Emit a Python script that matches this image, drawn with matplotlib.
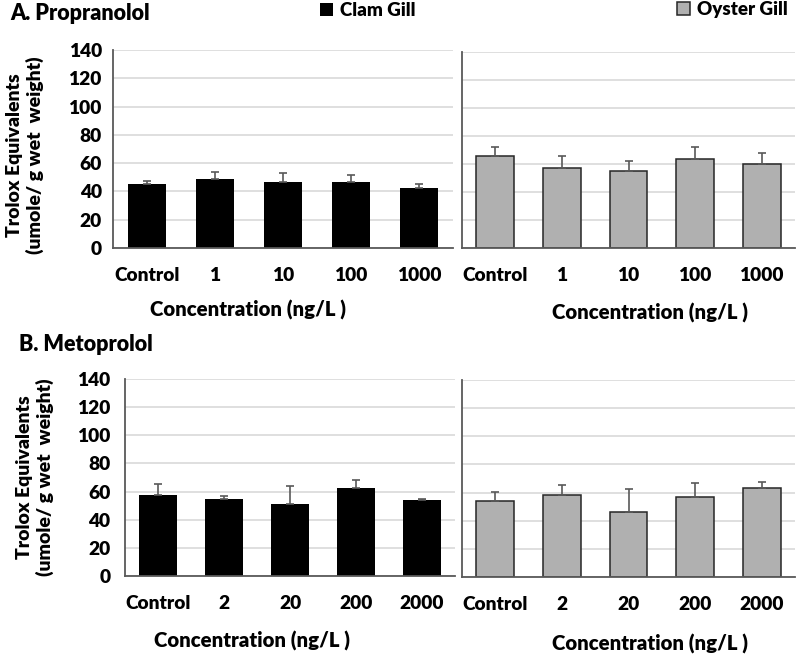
import matplotlib

matplotlib.use("Agg")
import matplotlib.pyplot as plt
import numpy as np

plt.rcParams["font.family"] = ["Lato", "DejaVu Sans"]
plt.rcParams["font.weight"] = "heavy"

# Values (bar height, upper error).
prop_labels = ["Control", "1", "10", "100", "1000"]
prop_clam = [45.3, 49.0, 46.5, 46.5, 42.1]
prop_clam_err = [1.9, 4.9, 6.4, 4.8, 3.3]
prop_oyster = [66.0, 57.5, 55.3, 63.3, 59.9]
prop_oyster_err = [6.5, 8.3, 6.7, 8.8, 8.1]

meto_labels = ["Control", "2", "20", "200", "2000"]
meto_clam = [57.8, 54.6, 51.4, 62.5, 54.1]
meto_clam_err = [7.3, 2.5, 12.6, 5.6, 0.7]
meto_oyster = [53.8, 58.2, 45.9, 56.8, 63.4]
meto_oyster_err = [6.4, 7.5, 16.3, 9.9, 4.2]

y_ticks = [0, 20, 40, 60, 80, 100, 120, 140]

W, H = 800, 656
CLAM = "#000000"
OYSTER = "#b0b0b0"
SPINE = "#595959"
GRID = "#d9d9d9"
FS = 13.8


def px_rect(x0, y0, x1, y1):
    # pixel box (top-left origin) -> figure fraction rect
    return [x0 / W, 1 - y1 / H, (x1 - x0) / W, (y1 - y0) / H]


def style_axes(ax, labels, show_y, ypad):
    ax.set_ylim(0, 140)
    ax.set_xlim(-0.5, len(labels) - 0.5)
    ax.set_yticks(y_ticks)
    ax.yaxis.grid(True, color=GRID, linewidth=1.2)
    ax.set_axisbelow(True)
    for side in ("top", "right"):
        ax.spines[side].set_visible(False)
    for side in ("left", "bottom"):
        ax.spines[side].set_color(SPINE)
        ax.spines[side].set_linewidth(1.3)
    ax.set_xticks(np.arange(len(labels)))
    ax.set_xticklabels(labels)
    ax.tick_params(axis="x", length=0, pad=13.5, labelsize=FS)
    ax.tick_params(axis="y", length=0, pad=ypad, labelsize=FS)
    if not show_y:
        ax.set_yticklabels([])


def draw_bars(ax, values, errs, color, edge):
    x = np.arange(len(values))
    lower = np.zeros(len(errs))
    bars = ax.bar(x, values, width=0.57, color=color,
                  edgecolor=edge, linewidth=1.1 if edge != "none" else 0,
                  zorder=2)
    ax.errorbar(x, values, yerr=[lower, errs], fmt="none", ecolor=SPINE,
                elinewidth=1.2, capsize=3, capthick=1.2, zorder=3)
    return bars


fig = plt.figure(figsize=(8, 6.56), dpi=100)

ax_a1 = fig.add_axes(px_rect(113, 50, 453, 248))
ax_a2 = fig.add_axes(px_rect(462, 52, 795, 248))
ax_b1 = fig.add_axes(px_rect(125, 379, 455, 576))
ax_b2 = fig.add_axes(px_rect(462, 380, 795, 577))

clam_bars = draw_bars(ax_a1, prop_clam, prop_clam_err, CLAM, "none")
oyster_bars = draw_bars(ax_a2, prop_oyster, prop_oyster_err, OYSTER, "#262626")
draw_bars(ax_b1, meto_clam, meto_clam_err, CLAM, "none")
draw_bars(ax_b2, meto_oyster, meto_oyster_err, OYSTER, "#262626")

style_axes(ax_a1, prop_labels, True, 8)
style_axes(ax_a2, prop_labels, False, 8)
style_axes(ax_b1, meto_labels, True, 10.5)
style_axes(ax_b2, meto_labels, False, 8)

# titles
fig.text(10 / W, 1 - 20 / H, "A. Propranolol", fontsize=15.5,
         ha="left", va="baseline")
fig.text(19 / W, 1 - 351 / H, "B. Metoprolol", fontsize=15.5,
         ha="left", va="baseline")

# axis labels
ylab = "Trolox Equivalents\n(umole/ g wet  weight)"
fig.text(25 / W, 1 - 155 / H, ylab, rotation=90, fontsize=14, ha="center",
         va="center", multialignment="center", linespacing=1.15)
fig.text(35 / W, 1 - 477 / H, ylab, rotation=90, fontsize=14, ha="center",
         va="center", multialignment="center", linespacing=1.15)

xlab = "Concentration (ng/L )"
for xc, yc in [(248, 310), (650, 313), (252, 641), (650, 644)]:
    fig.text(xc / W, 1 - yc / H, xlab, fontsize=14.7, ha="center", va="center")

# legends
leg_kw = dict(frameon=False, fontsize=13.5, handlelength=0.7, handleheight=0.7,
              handletextpad=0.35, borderpad=0, borderaxespad=0, loc="upper left")
fig.legend([clam_bars], ["Clam Gill"], bbox_to_anchor=(320 / W, 1 - 2 / H), **leg_kw)
fig.legend([oyster_bars], ["Oyster Gill"], bbox_to_anchor=(677 / W, 1 - 1 / H), **leg_kw)

fig.savefig("out.png", dpi=100)
